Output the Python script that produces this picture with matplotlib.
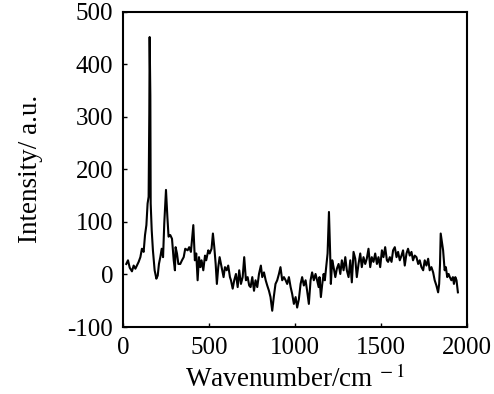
import matplotlib
matplotlib.use("Agg")
import matplotlib.pyplot as plt

# ======================================================
# Data
# ======================================================

wavenumber = [
    19, 29, 39, 52, 62, 72, 81, 91, 101, 110, 120, 128, 136, 143, 149,
    153, 155, 159, 161, 167, 174, 184, 194, 202, 209, 217, 225, 233, 240,
    250, 258, 265, 275, 285, 295, 302, 306, 314, 322, 333, 343,
    353, 362, 376, 385, 395, 409, 418, 426, 434, 442, 450, 457, 467, 477,
    484, 496, 504, 515, 523, 531, 539, 546, 554, 562, 570, 577, 585, 593,
    603, 612, 622, 628, 638, 647, 657, 667, 676, 686, 696, 705, 715, 725,
    734, 742, 752, 762, 771, 781, 791, 802, 810, 820, 830, 839, 849, 858,
    868, 877, 887, 897, 907, 916, 926, 936, 946, 955, 965, 975, 984, 994,
    1004, 1013, 1023, 1033, 1042, 1052, 1062, 1071, 1081, 1091, 1100, 1110,
    1120, 1129, 1138, 1143, 1151, 1159, 1167, 1174, 1182, 1190, 1198, 1205,
    1209, 1217, 1225, 1235, 1244, 1254, 1264, 1273, 1283, 1293, 1302, 1312,
    1322, 1331, 1341, 1351, 1360, 1370, 1380, 1389, 1399, 1409, 1418, 1428,
    1438, 1447, 1457, 1467, 1477, 1486, 1496, 1506, 1515, 1525, 1535, 1542,
    1552, 1562, 1571, 1581, 1591, 1600, 1610, 1620, 1629, 1639, 1649, 1658,
    1668, 1678, 1687, 1697, 1707, 1717, 1726, 1736, 1746, 1755, 1765, 1775,
    1784, 1794, 1804, 1813, 1823, 1833, 1839, 1844, 1848, 1855, 1862, 1871,
    1878, 1886, 1894, 1901, 1910, 1919, 1925, 1933, 1940, 1948,
]

intensity = [
    20, 27, 13, 6, 17, 11, 17, 24, 33, 49, 43, 75, 94, 135, 148,
    308, 452, 340, 135, 84, 46, 8, -8, -2, 20, 33, 49, 33, 97,
    161, 110, 72, 75, 68, 27, 8, 52, 40, 20, 20, 27,
    33, 49, 46, 52, 43, 94, 27, 40, -11, 33, 14, 27, 8, 36,
    27, 46, 40, 49, 78, 52, 20, -18, 14, 33, 20, 8, -5, 14,
    8, 17, -5, -11, -27, -11, 1, -24, 8, -18, -5, 33, -11, -5,
    -21, -24, -5, -31, -11, -24, 1, 17, -5, 4, -11, -21, -31, -43,
    -69, -43, -18, -11, 1, 14, -11, -5, -11, -18, -5, -24, -37, -56,
    -43, -63, -47, -18, -5, -21, -11, -31, -56, -11, 4, -11,
    1, -11, -24, -5, -43, -18, 1, -11, 14, 40, 119, 40,
    -18, 27, 14, -5, 11, 20, 1, 27, 8, 33, 8, -5,
    27, -15, 43, 30, -5, 20, 40, 14, 33, 20, 30, 49,
    14, 33, 24, 40, 20, 33, 14, 46, 33, 52, 27, 24,
    33, 24, 46, 52, 33, 43, 27, 36, 46, 17, 40, 49,
    36, 43, 27, 36, 33, 20, 27, 14, 8, 27, 17, 30,
    8, 14, 4, -11, -21, -34, -18, 20, 78, 62, 46, 8,
    14, -5, 1, -5, -11, -5, -18, -5, -11, -34,
]

x_ticks = [0, 500, 1000, 1500, 2000]
y_ticks = [-100, 0, 100, 200, 300, 400, 500]

# ======================================================
# Plot
# ======================================================

plt.rcParams["font.family"] = ["Liberation Serif", "DejaVu Serif"]
plt.rcParams["mathtext.fontset"] = "stix"
plt.rcParams["axes.unicode_minus"] = False

fig = plt.figure(figsize=(4.94, 3.94), dpi=100)
ax = fig.add_axes([0.249, 0.170, 0.696, 0.800])

ax.plot(wavenumber, intensity, color="black", linewidth=1.5)

ax.set_xlim(0, 2000)
ax.set_ylim(-100, 500)
ax.set_xticks(x_ticks)
ax.set_yticks(y_ticks)

ax.tick_params(direction="in", length=3, width=1, labelsize=18, pad=7)

for spine in ax.spines.values():
    spine.set_linewidth(1.5)

ax.set_xlabel(r"Wavenumber/cm$^{\ -1}$", fontsize=19.5, labelpad=5)
ax.set_ylabel("Intensity/ a.u.", fontsize=19.5, labelpad=18)

fig.savefig("out.png", dpi=100)
